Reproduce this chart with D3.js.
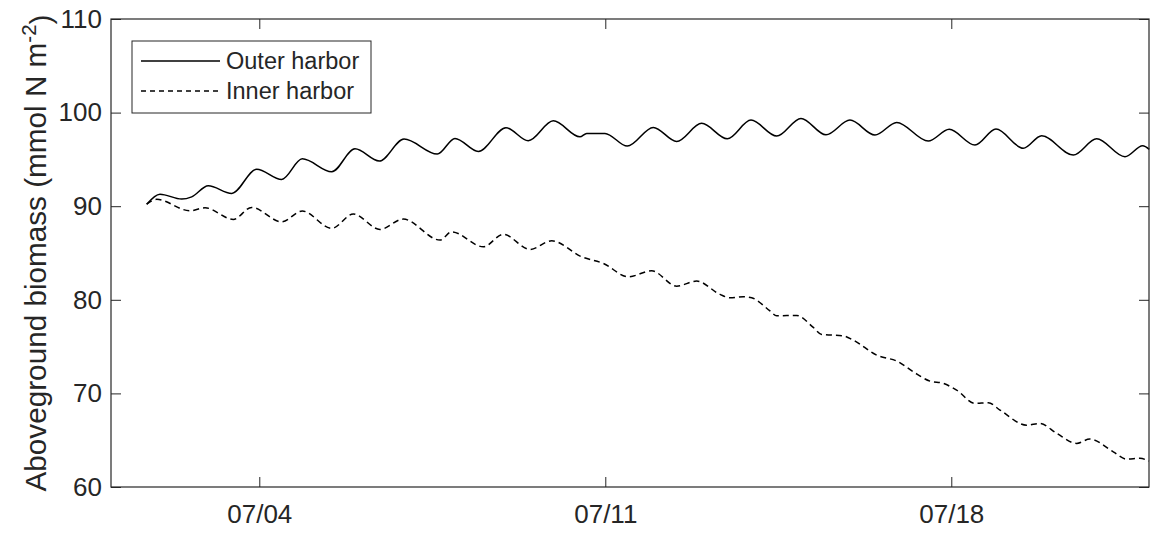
<!DOCTYPE html>
<html>
<head>
<meta charset="utf-8">
<script src="https://cdn.jsdelivr.net/npm/d3@7"></script>
<style>
  html, body { margin: 0; padding: 0; background: #fff; }
  svg { display: block; font-family: "Liberation Sans", Arial, sans-serif; }
</style>
</head>
<body>
<svg id="chart" width="1155" height="534"></svg>
<script>
// ---- Data (time = fractional day of July, e.g. 1.72 = 07/01 ~17:20) ----
const outerTime = [1.722,1.991,2.430,2.633,2.968,3.442,3.948,4.453,4.870,5.465,5.936,6.428,6.928,7.601,7.959,8.431,8.991,9.442,9.948,10.488,10.624,10.994,11.445,11.971,12.444,12.950,13.468,13.948,14.468,14.959,15.465,15.950,16.456,16.895,17.534,17.958,18.479,18.904,19.456,19.828,20.468,20.941,21.514,21.872,22.005];
const outerHarbor = [90.22,91.29,90.76,91.00,92.18,91.37,93.96,92.86,95.06,93.68,96.13,94.82,97.17,95.57,97.24,95.85,98.38,96.99,99.12,97.41,97.78,97.78,96.42,98.42,96.92,98.85,97.20,99.20,97.49,99.38,97.63,99.20,97.60,98.95,96.96,98.21,96.53,98.24,96.18,97.52,95.46,97.20,95.28,96.45,96.07];

const innerTime = [1.722,1.925,2.598,2.902,3.474,3.846,4.453,4.870,5.465,5.902,6.442,6.913,7.656,7.892,8.532,8.937,9.477,9.916,10.522,10.959,11.465,11.938,12.444,12.849,13.320,13.523,13.792,13.962,14.332,14.467,14.872,15.208,15.378,15.815,16.017,16.491,16.928,17.231,17.568,17.837,18.108,18.479,18.748,18.985,19.525,19.794,20.132,20.535,20.804,21.277,21.547,21.816,21.999];
const innerHarbor = [90.22,90.73,89.51,89.83,88.59,89.87,88.33,89.48,87.63,89.16,87.52,88.62,86.38,87.26,85.66,86.99,85.38,86.30,84.59,83.89,82.46,83.10,81.46,82.00,80.58,80.21,80.32,80.21,78.82,78.29,78.33,77.05,76.30,76.15,75.69,74.09,73.38,72.31,71.31,71.07,70.35,68.93,69.00,68.22,66.61,66.79,65.73,64.66,65.12,63.76,62.98,63.06,62.77];

const xDomainDays = [1, 22];
const xTickDays = [4, 11, 18];
const xTickLabels = ["07/04", "07/11", "07/18"];
const yTicks = [60, 70, 80, 90, 100, 110];
const seriesNames = ["Outer harbor", "Inner harbor"];

// ---- Setup ----
const ink = "#262626";
const svg = d3.select("#chart");
const L = 111, R = 1149, T = 19, B = 487;
const toDate = d => new Date(Date.UTC(2017, 6, 1) + (d - 1) * 864e5);

const x = d3.scaleUtc().domain(xDomainDays.map(toDate)).range([L, R]);
const y = d3.scaleLinear().domain([60, 110]).range([B, T]);

const outerData = outerTime.map((t, i) => ({ t: toDate(t), v: outerHarbor[i] }));
const innerData = innerTime.map((t, i) => ({ t: toDate(t), v: innerHarbor[i] }));

const line = d3.line().x(d => x(d.t)).y(d => y(d.v)).curve(d3.curveMonotoneX);

// Lines
const plot = svg.append("g");
plot.append("path").datum(outerData).attr("d", line)
  .attr("fill", "none").attr("stroke", "#000").attr("stroke-width", 1.5);
plot.append("path").datum(innerData).attr("d", line)
  .attr("fill", "none").attr("stroke", "#000").attr("stroke-width", 1.5)
  .attr("stroke-dasharray", "6,4");

// Axes
const tickFmt = d => xTickLabels[xTickDays.map(toDate).findIndex(t => +t === +d)];
const xAxis = d3.axisBottom(x).tickValues(xTickDays.map(toDate)).tickFormat(tickFmt)
  .tickSizeInner(-10).tickSizeOuter(0).tickPadding(18);
const xAxisTop = d3.axisTop(x).tickValues(xTickDays.map(toDate)).tickFormat("")
  .tickSizeInner(-10).tickSizeOuter(0);
const yAxis = d3.axisLeft(y).tickValues(yTicks).tickFormat(d3.format("d"))
  .tickSizeInner(-10).tickSizeOuter(0).tickPadding(9);
const yAxisRight = d3.axisRight(y).tickValues(yTicks).tickFormat("")
  .tickSizeInner(-10).tickSizeOuter(0);

function styleAxis(g) {
  g.select(".domain").remove();
  g.selectAll(".tick line").attr("stroke", ink).attr("stroke-width", 1);
  g.selectAll("text").attr("fill", ink).style("font-size", "26px")
    .style("font-family", "'Liberation Sans', Arial, sans-serif");
}
svg.append("g").attr("transform", `translate(0,${B})`).call(xAxis).call(styleAxis);
svg.append("g").attr("transform", `translate(0,${T})`).call(xAxisTop).call(styleAxis);
svg.append("g").attr("transform", `translate(${L},0)`).call(yAxis).call(styleAxis);
svg.append("g").attr("transform", `translate(${R},0)`).call(yAxisRight).call(styleAxis);

// Box
svg.append("rect").attr("x", L).attr("y", T).attr("width", R - L).attr("height", B - T)
  .attr("fill", "none").attr("stroke", ink).attr("stroke-width", 1.2);

// Y label
const yl = svg.append("text")
  .attr("transform", `translate(46,${(T + B) / 2}) rotate(-90)`)
  .attr("text-anchor", "middle").attr("fill", ink)
  .style("font-size", "29.7px");
yl.append("tspan").text("Aboveground biomass (mmol N m");
yl.append("tspan").attr("dy", "-0.5em").style("font-size", "20.5px").text("-2");
yl.append("tspan").attr("dy", "0.5em").text(")");

// Legend
const lg = svg.append("g");
lg.append("rect").attr("x", 132).attr("y", 41).attr("width", 239).attr("height", 72)
  .attr("fill", "#fff").attr("stroke", ink).attr("stroke-width", 1);
const legY = [61, 91];
seriesNames.forEach((name, i) => {
  lg.append("line").attr("x1", 141).attr("x2", 220).attr("y1", legY[i]).attr("y2", legY[i])
    .attr("stroke", "#000").attr("stroke-width", 1.5)
    .attr("stroke-dasharray", i === 1 ? "5,4" : null);
  lg.append("text").attr("x", 226).attr("y", legY[i]).attr("dy", "0.36em")
    .attr("fill", ink).style("font-size", "23.5px").text(name);
});
</script>
</body>
</html>
